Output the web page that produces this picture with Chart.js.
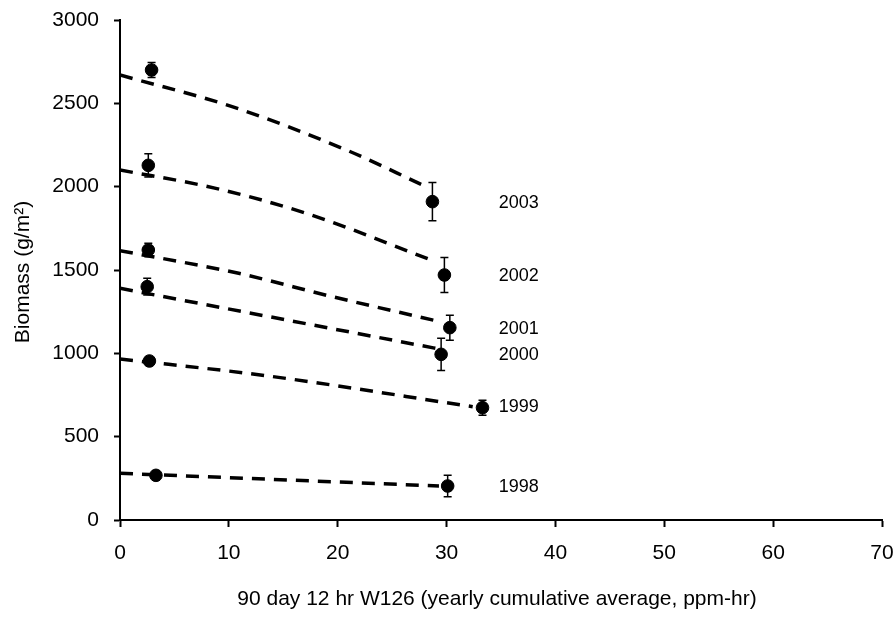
<!DOCTYPE html>
<html>
<head>
<meta charset="utf-8">
<script src="https://cdn.jsdelivr.net/npm/chart.js@4.4.1/dist/chart.umd.min.js"></script>
<style>
  html, body { margin: 0; padding: 0; background: #ffffff; }
  #wrap { width: 894px; height: 617px; position: relative; }
</style>
</head>
<body>
<div id="wrap"><canvas id="c" width="894" height="617"></canvas></div>
<script>
// ---- data ----
const years = ['1998', '1999', '2000', '2001', '2002', '2003'];
const w126Low = [3.3, 2.7, 2.5, 2.6, 2.6, 2.9];
const w126High = [30.1, 33.3, 29.5, 30.3, 29.8, 28.7];
const biomassLow = [268, 954, 1400, 1620, 2128, 2700];
const biomassHigh = [204, 674, 994, 1154, 1470, 1910];
const errLow = [28, 22, 50, 40, 70, 45];
const errHigh = [65, 45, 97, 75, 105, 115];

// trend lines (x, y)
const trendX1998 = [0, 29.3];
const trendY1998 = [280, 204];
const trendX1999 = [0, 13.4, 32.4];
const trendY1999 = [966, 866, 680];
const trendX2000 = [0, 29.0];
const trendY2000 = [1390, 1030];
const trendX2001 = [0, 10.9, 19.5, 29.0];
const trendY2001 = [1616, 1480, 1340, 1196];
const trendX2002 = [0, 8.8, 17.1, 29.0];
const trendY2002 = [2100, 1990, 1840, 1550];
const trendX2003 = [0, 10.3, 20.8, 27.8];
const trendY2003 = [2670, 2480, 2220, 2010];

// year label anchors
const labelX = 34.8;
const labelY = [198, 678, 990, 1146, 1464, 1902];

const xTicks = [0, 10, 20, 30, 40, 50, 60, 70];
const yTicks = [0, 500, 1000, 1500, 2000, 2500, 3000];
const xTitle = '90 day 12 hr W126 (yearly cumulative average, ppm-hr)';
const yTitle = 'Biomass (g/m\u00B2)';

const FONT = "'Liberation Sans', Arial, sans-serif";

const trendXs = [trendX1998, trendX1999, trendX2000, trendX2001, trendX2002, trendX2003];
const trendYs = [trendY1998, trendY1999, trendY2000, trendY2001, trendY2002, trendY2003];

const datasets = [];
years.forEach((yr, i) => {
  datasets.push({
    label: 'trend ' + yr,
    type: 'line',
    data: trendXs[i].map((x, k) => ({ x: x, y: trendYs[i][k] })),
    borderColor: '#000',
    borderWidth: 3.5,
    borderDash: [13, 9],
    borderCapStyle: 'butt',
    pointRadius: 0,
    fill: false,
    cubicInterpolationMode: 'monotone'
  });
});
years.forEach((yr, i) => {
  datasets.push({
    label: yr,
    type: 'scatter',
    data: [{ x: w126Low[i], y: biomassLow[i] }, { x: w126High[i], y: biomassHigh[i] }],
    backgroundColor: '#000',
    borderColor: '#000',
    pointRadius: 6.3,
    pointHoverRadius: 6.3,
    showLine: false
  });
});

const errorBarPlugin = {
  id: 'errorBars',
  afterDatasetsDraw(chart) {
    const ctx = chart.ctx;
    const xs = chart.scales.x, ys = chart.scales.y;
    ctx.save();
    ctx.strokeStyle = '#000';
    ctx.lineWidth = 1.5;
    const bar = (x, v, e) => {
      const px = xs.getPixelForValue(x);
      const top = ys.getPixelForValue(v + e);
      const bot = ys.getPixelForValue(v - e);
      ctx.beginPath();
      ctx.moveTo(px, top); ctx.lineTo(px, bot);
      ctx.moveTo(px - 4, top); ctx.lineTo(px + 4, top);
      ctx.moveTo(px - 4, bot); ctx.lineTo(px + 4, bot);
      ctx.stroke();
    };
    years.forEach((yr, i) => {
      bar(w126Low[i], biomassLow[i], errLow[i]);
      bar(w126High[i], biomassHigh[i], errHigh[i]);
    });
    ctx.restore();
  }
};

const textPlugin = {
  id: 'texts',
  afterDraw(chart) {
    const ctx = chart.ctx;
    const xs = chart.scales.x, ys = chart.scales.y;
    ctx.save();
    ctx.fillStyle = '#000';
    ctx.font = '18px ' + FONT;
    ctx.textAlign = 'left';
    ctx.textBaseline = 'middle';
    years.forEach((yr, i) => {
      ctx.fillText(yr, xs.getPixelForValue(labelX), ys.getPixelForValue(labelY[i]));
    });
    ctx.font = '21px ' + FONT;
    ctx.textAlign = 'center';
    ctx.fillText(xTitle, (xs.left + xs.right) / 2 - 4, 599);
    ctx.translate(23, (ys.top + ys.bottom) / 2 + 2);
    ctx.rotate(-Math.PI / 2);
    ctx.fillText(yTitle, 0, 0);
    ctx.restore();
  }
};

new Chart(document.getElementById('c'), {
  type: 'scatter',
  data: { datasets: datasets },
  options: {
    responsive: false,
    animation: false,
    events: [],
    layout: { padding: { top: 20, right: 12, left: 0, bottom: 0 } },
    plugins: { legend: { display: false }, tooltip: { enabled: false } },
    scales: {
      x: {
        type: 'linear', min: 0, max: 70,
        afterBuildTicks: (s) => { s.ticks = xTicks.map(v => ({ value: v })); },
        afterFit: (s) => { s.height = 97; s.paddingLeft = 0; s.paddingRight = 0; },
        grid: { drawOnChartArea: false, drawTicks: true, tickLength: 7, tickWidth: 2, color: '#000' },
        border: { display: true, color: '#000', width: 2 },
        ticks: { color: '#000', font: { family: FONT, size: 21 }, padding: 14, maxRotation: 0,
                 callback: (v) => String(v) }
      },
      y: {
        type: 'linear', min: 0, max: 3000,
        afterBuildTicks: (s) => { s.ticks = yTicks.map(v => ({ value: v })); },
        afterFit: (s) => { s.width = 120; s.paddingTop = 0; s.paddingBottom = 0; },
        grid: { drawOnChartArea: false, drawTicks: true, tickLength: 6, tickWidth: 2, color: '#000' },
        border: { display: true, color: '#000', width: 2 },
        ticks: { color: '#000', font: { family: FONT, size: 21 }, padding: 15,
                 callback: (v) => String(v) }
      }
    }
  },
  plugins: [errorBarPlugin, textPlugin]
});
</script>
</body>
</html>
